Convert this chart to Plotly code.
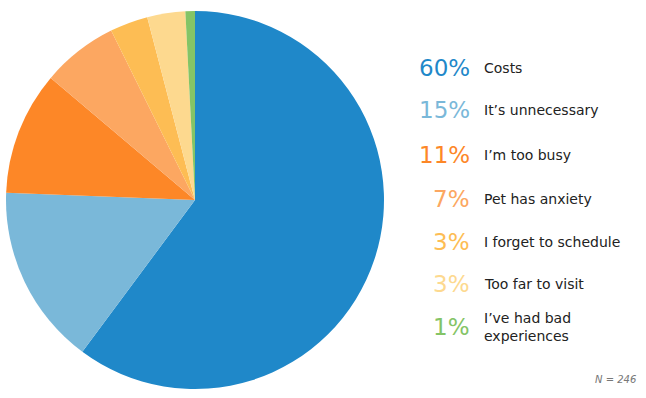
import plotly.graph_objects as go

categories = ["Costs", "It’s unnecessary", "I’m too busy", "Pet has anxiety",
              "I forget to schedule", "Too far to visit", "I’ve had bad<br>experiences"]
counts = [148, 38, 26, 16, 8, 8, 2]
pct_labels = ["60%", "15%", "11%", "7%", "3%", "3%", "1%"]
colors = ["#1f88c9", "#7ab8d9", "#fd8727", "#fca761", "#fdbd54", "#fdd98f", "#84c466"]
n_label = "N = 246"

W, H = 646, 398
fig = go.Figure()
fig.add_trace(go.Pie(
    labels=categories, values=counts, sort=False, direction="clockwise",
    rotation=0, textinfo="none", hoverinfo="label+percent",
    marker=dict(colors=colors, line=dict(color="white", width=0)),
    domain=dict(x=[6 / W, 384 / W], y=[9 / H, 387 / H]),
    showlegend=False,
))

ys = [68, 110, 155, 199, 242, 284, 327]
for y, p, c, lab in zip(ys, pct_labels, colors, categories):
    fig.add_annotation(x=472 / W, y=1 - y / H, xref="paper", yref="paper",
                       text=p, showarrow=False, xanchor="right", yanchor="middle",
                       font=dict(family="DejaVu Sans", size=23, color=c))
    fig.add_annotation(x=482 / W, y=1 - y / H, xref="paper", yref="paper",
                       text=lab, showarrow=False, xanchor="left", yanchor="middle",
                       align="left",
                       font=dict(family="DejaVu Sans", size=14, color="#222222"))

fig.add_annotation(x=638 / W, y=1 - 379 / H, xref="paper", yref="paper",
                   text="<i>" + n_label + "</i>", showarrow=False,
                   xanchor="right", yanchor="middle",
                   font=dict(family="DejaVu Sans", size=10, color="#777777"))

fig.update_layout(width=W, height=H, margin=dict(l=0, r=0, t=0, b=0),
                  paper_bgcolor="white", plot_bgcolor="white")
fig.write_html("out.html", config={"displayModeBar": False},
               post_script="document.body.style.margin='0';document.body.style.overflow='hidden';")
